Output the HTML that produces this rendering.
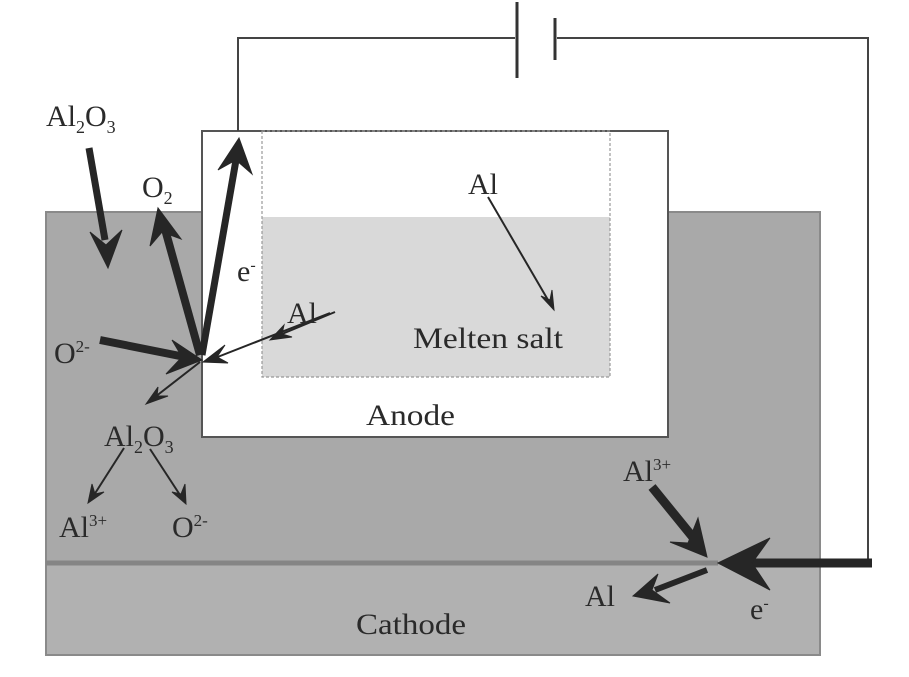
<!DOCTYPE html>
<html><head><meta charset="utf-8"><style>
html,body{margin:0;padding:0;background:#fff;}
svg{display:block;}
text{font-family:"Liberation Serif",serif;fill:#2a2a2a;}
</style></head><body>
<svg width="909" height="677" viewBox="0 0 909 677" xmlns="http://www.w3.org/2000/svg">
<rect x="46" y="212" width="774" height="443" fill="#a9a9a9" stroke="#8a8a8a" stroke-width="2"/>
<rect x="47" y="565" width="772" height="89" fill="#b1b1b1"/>
<line x1="46" y1="563" x2="718" y2="563" stroke="#858585" stroke-width="5"/>
<rect x="202" y="131" width="466" height="306" fill="#fff" stroke="#555" stroke-width="2"/>
<rect x="262" y="217" width="348" height="160" fill="#d9d9d9"/>
<rect x="262" y="131" width="348" height="246" fill="none" stroke="#999" stroke-width="1.2" stroke-dasharray="3,2"/>
<polyline points="238,131 238,38 515,38" fill="none" stroke="#444" stroke-width="2"/>
<polyline points="557,38 868,38 868,563" fill="none" stroke="#444" stroke-width="2"/>
<line x1="517" y1="2" x2="517" y2="78" stroke="#333" stroke-width="3"/>
<line x1="555" y1="18" x2="555" y2="60" stroke="#333" stroke-width="3"/>
<g stroke="#262626" fill="#262626" stroke-linecap="butt">
<line x1="872" y1="563" x2="735" y2="563" stroke-width="9"/>
<polygon points="718,563 770,538 752,563 770,590"/>
<line x1="652" y1="487" x2="700" y2="546" stroke-width="9"/>
<polygon points="707,557 670,542 688,543 698,518"/>
<line x1="707" y1="570" x2="655" y2="590" stroke-width="6"/>
<polygon points="633,596 658,574 652,590 670,603"/>
<line x1="89" y1="148" x2="105" y2="240" stroke-width="7"/>
<polygon points="108,268 90,232 106,245 122,230"/>
<line x1="200" y1="355" x2="163" y2="222" stroke-width="8"/>
<polygon points="158,208 150,246 162,232 181,239"/>
<line x1="202" y1="355" x2="236" y2="160" stroke-width="7"/>
<polygon points="239,138 218,170 236,160 252,174"/>
<line x1="100" y1="340" x2="185" y2="357" stroke-width="8"/>
<polygon points="202,360 172,340 182,357 166,374"/>
<line x1="330" y1="313" x2="215" y2="358" stroke-width="2"/>
<polygon points="203,362 225,345 217,357 228,363"/>
<line x1="200" y1="362" x2="155" y2="397" stroke-width="2"/>
<polygon points="146,404 158,387 157,396 168,396"/>
<line x1="124" y1="448" x2="94" y2="495" stroke-width="2"/>
<polygon points="88,503 92,484 95,494 104,492"/>
<line x1="150" y1="449" x2="180" y2="495" stroke-width="2"/>
<polygon points="186,504 172,492 181,494 185,484"/>
<line x1="488" y1="197" x2="548" y2="300" stroke-width="2"/>
<polygon points="554,310 541,296 550,300 552,290"/>
<line x1="335" y1="312" x2="282" y2="334" stroke-width="2"/>
<polygon points="270,340 284,325 282,334 292,337"/>
</g>
<g font-size="30">
<text x="46" y="126">Al<tspan font-size="18" dy="7">2</tspan><tspan dy="-7">O</tspan><tspan font-size="18" dy="7">3</tspan></text>
<text x="142" y="197">O<tspan font-size="18" dy="7">2</tspan></text>
<text x="237" y="281">e<tspan font-size="16" dy="-11">-</tspan></text>
<text x="287" y="323">Al</text>
<text x="54" y="363">O<tspan font-size="17" dy="-11">2-</tspan></text>
<text x="104" y="446">Al<tspan font-size="18" dy="7">2</tspan><tspan dy="-7">O</tspan><tspan font-size="18" dy="7">3</tspan></text>
<text x="59" y="537">Al<tspan font-size="17" dy="-11">3+</tspan></text>
<text x="172" y="537">O<tspan font-size="17" dy="-11">2-</tspan></text>
<text x="468" y="194">Al</text>
<text x="413" y="348" textLength="150" lengthAdjust="spacingAndGlyphs">Melten salt</text>
<text x="366" y="425" textLength="89" lengthAdjust="spacingAndGlyphs">Anode</text>
<text x="623" y="481">Al<tspan font-size="17" dy="-11">3+</tspan></text>
<text x="585" y="606">Al</text>
<text x="750" y="619">e<tspan font-size="16" dy="-11">-</tspan></text>
<text x="356" y="634" textLength="110" lengthAdjust="spacingAndGlyphs">Cathode</text>
</g>
</svg>
</body></html>
